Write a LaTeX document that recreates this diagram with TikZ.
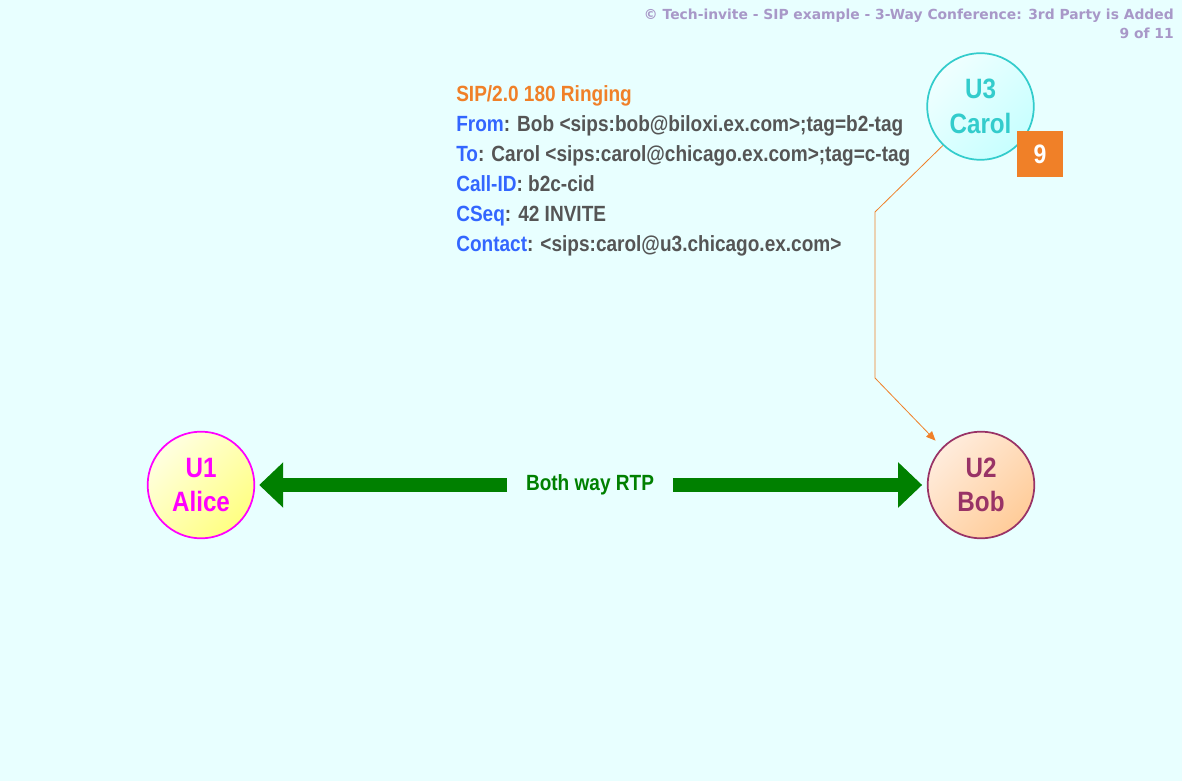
\documentclass[tikz,border=0pt]{standalone}
\usepackage{fontspec}
\setmainfont{Liberation Sans}
\newfontfamily\narrowb[FakeStretch=0.865]{Liberation Sans}
\newfontfamily\hdrfont{DejaVu Sans}
\usetikzlibrary{arrows.meta,shadings}
\definecolor{bgc}{RGB}{232,255,255}
\definecolor{hdr}{RGB}{168,152,200}
\definecolor{sipor}{RGB}{240,128,40}
\definecolor{fieldb}{RGB}{51,102,255}
\definecolor{valg}{RGB}{85,85,85}
\definecolor{rtpg}{RGB}{0,128,0}
\definecolor{carolc}{RGB}{51,204,204}
\definecolor{alicec}{RGB}{255,0,255}
\definecolor{bobc}{RGB}{153,51,102}
\tikzset{
  user/.style={circle, minimum size=80pt, inner sep=0pt, line width=1.3pt, align=center,
    font={\narrowb\bfseries\fontsize{21pt}{25pt}\selectfont}},
  msgline/.style={anchor=base west, inner sep=0pt, font={\narrowb\bfseries\fontsize{16.5pt}{20pt}\selectfont}, text=valg},
  hdrtext/.style={anchor=base east, inner sep=0pt, text=hdr, font={\hdrfont\bfseries\fontsize{10.4pt}{14pt}\selectfont}},
  rtp/.style={-{Triangle[length=18pt,width=33pt]}, line width=11pt, draw=rtpg},
  sipmsg/.style={draw=sipor, line width=0.6pt, -{Triangle[length=7pt,width=6pt]}}
}
\begin{document}
\begin{tikzpicture}[x=0.75pt,y=-0.75pt]
\useasboundingbox (0,0) rectangle (1182,781);
\fill[bgc] (0,0) rectangle (1182,781);
% header
\node[hdrtext] (title) at (1174,20) {\textcopyright{} Tech-invite - SIP example - 3-Way Conference: 3rd Party is Added};
\node[hdrtext] (page) at (1174,39) {9 of 11};
% users
\node[user, draw=carolc, text=carolc, shading=axis, top color=white!60!cyan!15, bottom color=cyan!22, shading angle=45] (carol) at (980.5,106.5) {U3\\[1pt]Carol};
\node[user, draw=alicec, text=alicec, shading=axis, top color={rgb,255:red,255;green,255;blue,225}, bottom color={rgb,255:red,255;green,255;blue,130}, shading angle=45] (alice) at (201,485) {U1\\[1pt]Alice};
\node[user, draw=bobc, text=bobc, shading=axis, top color={rgb,255:red,255;green,236;blue,220}, bottom color={rgb,255:red,255;green,204;blue,153}, shading angle=45] (bob) at (981,485) {U2\\[1pt]Bob};
% badge
\node[fill=sipor, minimum width=34.5pt, minimum height=34.5pt, inner sep=0pt, text=white, font={\narrowb\bfseries\fontsize{20pt}{24pt}\selectfont}] (badge) at (1040,154) {9};
% RTP
\node[inner xsep=14pt, inner ysep=0pt, text=rtpg, font={\narrowb\bfseries\fontsize{16.5pt}{20pt}\selectfont}] (rtplabel) at (590,485) {Both way RTP};
\draw[rtp, shorten >=3pt] (rtplabel.west) -- (alice.east);
\draw[rtp, shorten >=3.5pt] (rtplabel.east) -- (bob.west);
% message
\coordinate (k1) at (875,212);
\coordinate (k2) at (875,378);
\draw[sipmsg, shorten >=7pt] (carol.226) -- (k1) -- (k2) -- (bob.136);
\node[msgline, text=sipor] (m1) at (456,102) {SIP/2.0 180 Ringing};
\node[msgline] (m2) at (456,132) {\textcolor{fieldb}{From}: Bob <sips:bob@biloxi.ex.com>;tag=b2-tag};
\node[msgline] (m3) at (456,162) {\textcolor{fieldb}{To}: Carol <sips:carol@chicago.ex.com>;tag=c-tag};
\node[msgline] (m4) at (456,192) {\textcolor{fieldb}{Call-ID}: b2c-cid};
\node[msgline] (m5) at (456,222) {\textcolor{fieldb}{CSeq}: 42 INVITE};
\node[msgline] (m6) at (456,252) {\textcolor{fieldb}{Contact}: <sips:carol@u3.chicago.ex.com>};
\end{tikzpicture}
\end{document}
